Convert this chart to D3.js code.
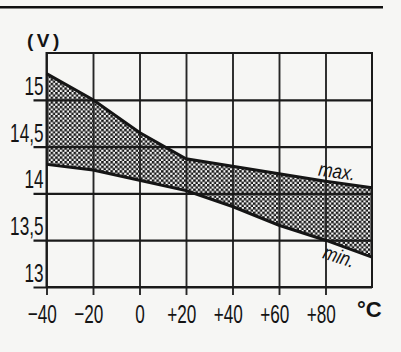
<!DOCTYPE html>
<html>
<head>
<meta charset="utf-8">
<script src="https://cdn.jsdelivr.net/npm/d3@7"></script>
<style>
  body { margin: 0; background: #f6f6f4; }
  svg { display: block; }
  text { font-family: "Liberation Sans", Arial, sans-serif; fill: #141414; }
</style>
</head>
<body>
<script>
// charging voltage band vs temperature
const temps = [-40, -20, 0, 20, 40, 60, 80, 100];
const maxVolts = [15.28, 15.0, 14.65, 14.37, 14.29, 14.21, 14.13, 14.06];
const minVolts = [14.31, 14.25, 14.14, 14.03, 13.86, 13.66, 13.50, 13.32];
const xTicks = [-40, -20, 0, 20, 40, 60, 80];
const xTickLabels = ["\u221240", "\u221220", "0", "+20", "+40", "+60", "+80"];
const yTicks = [13, 13.5, 14, 14.5, 15];
const yTickLabels = ["13", "13,5", "14", "14,5", "15"];

const width = 401, height = 352;
const plot = { left: 46.5, right: 372, top: 53, bottom: 287 };

const svg = d3.select("body").append("svg")
  .attr("width", width)
  .attr("height", height);

const x = d3.scaleLinear().domain([-40, 100]).range([plot.left, plot.right]);
const y = d3.scaleLinear().domain([13, 15.5]).range([plot.bottom, plot.top]);

// checker pattern for the band
const defs = svg.append("defs");
const pat = defs.append("pattern")
  .attr("id", "checker")
  .attr("patternUnits", "userSpaceOnUse")
  .attr("width", 4.6).attr("height", 4.6);
pat.append("rect").attr("width", 4.6).attr("height", 4.6).attr("fill", "#f4f4f4");
pat.append("rect").attr("width", 2.5).attr("height", 2.5).attr("fill", "#161616");
pat.append("rect").attr("x", 2.3).attr("y", 2.3).attr("width", 2.5).attr("height", 2.5).attr("fill", "#161616");

// rule at the top of the page
svg.append("line")
  .attr("x1", 0).attr("x2", 383)
  .attr("y1", 7.3).attr("y2", 7.3)
  .attr("stroke", "#111").attr("stroke-width", 2.6);

const band = temps.map((t, i) => ({ t: t, hi: maxVolts[i], lo: minVolts[i] }));

svg.append("path")
  .datum(band)
  .attr("fill", "url(#checker)")
  .attr("d", d3.area().x(d => x(d.t)).y0(d => y(d.lo)).y1(d => y(d.hi)));

// vertical grid (ticks hang below the frame)
svg.append("g")
  .attr("transform", `translate(0,${plot.top})`)
  .call(d3.axisBottom(x).tickValues(xTicks).tickSize(plot.bottom - plot.top + 8).tickFormat(""))
  .call(g => g.select(".domain").remove())
  .selectAll("line")
  .attr("stroke", "#262626").attr("stroke-width", 1.9);

// horizontal grid (ticks stick out on the left)
svg.append("g")
  .attr("transform", `translate(${plot.left - 13},0)`)
  .call(d3.axisRight(y).tickValues(yTicks).tickSize(plot.right - plot.left + 13).tickFormat(""))
  .call(g => g.select(".domain").remove())
  .selectAll("line")
  .attr("stroke", "#1a1a1a").attr("stroke-width", 2.2);

// frame
svg.append("rect")
  .attr("x", plot.left).attr("y", plot.top)
  .attr("width", plot.right - plot.left)
  .attr("height", plot.bottom - plot.top)
  .attr("fill", "none")
  .attr("stroke", "#1a1a1a").attr("stroke-width", 2);

// max and min lines
const line = d3.line().x(d => x(d.t));
svg.append("path")
  .datum(band)
  .attr("fill", "none").attr("stroke", "#151515").attr("stroke-width", 3)
  .attr("d", line.y(d => y(d.hi)));
svg.append("path")
  .datum(band)
  .attr("fill", "none").attr("stroke", "#151515").attr("stroke-width", 3)
  .attr("d", line.y(d => y(d.lo)));

// y tick labels, condensed, sitting on their grid line
yTicks.forEach((v, i) => {
  svg.append("text")
    .attr("transform", `translate(${plot.left - 3},${y(v) - 5}) scale(0.66,1)`)
    .attr("text-anchor", "end")
    .attr("font-size", "26px")
    .text(yTickLabels[i]);
});

// x tick labels, number part centred on tick
xTicks.forEach((t, i) => {
  const lab = xTickLabels[i];
  const digits = lab.replace(/[^0-9]/g, "").length;
  svg.append("text")
    .attr("transform", `translate(${x(t) + digits * 5.2},323) scale(0.66,1)`)
    .attr("text-anchor", "end")
    .attr("font-size", "26px")
    .text(lab);
});

// unit labels
svg.append("text")
  .attr("x", 27).attr("y", 47)
  .attr("font-size", "19px").attr("font-weight", "bold")
  .attr("letter-spacing", "3.5px")
  .text("(V)");

svg.append("text")
  .attr("x", 357).attr("y", 317)
  .attr("font-size", "22px").attr("font-weight", "bold")
  .text("°C");

// series annotations
svg.append("text")
  .attr("transform", `translate(336,178) rotate(8) scale(0.85,1)`)
  .attr("text-anchor", "middle")
  .attr("font-size", "20px").attr("font-style", "italic")
  .text("max.");

svg.append("text")
  .attr("transform", `translate(337,263) rotate(18) scale(0.85,1)`)
  .attr("text-anchor", "middle")
  .attr("font-size", "20px").attr("font-style", "italic")
  .text("min.");
</script>
</body>
</html>
